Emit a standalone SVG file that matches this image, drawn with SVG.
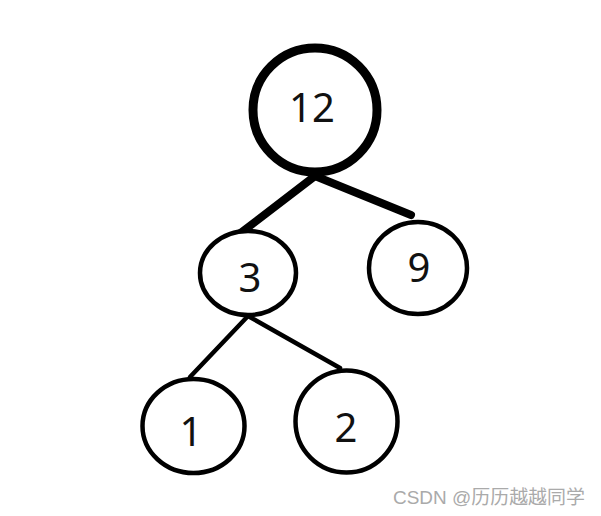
<svg xmlns="http://www.w3.org/2000/svg" width="601" height="516" viewBox="0 0 601 516">
<style>
.node{fill:#fff;stroke:#000;stroke-width:4.5}
.big{stroke-width:9}
.lbl{font-family:"Noto Sans","Open Sans",sans-serif;font-size:40px;fill:#111;text-anchor:middle;dominant-baseline:central}
.edge{stroke:#000;stroke-width:4.5;stroke-linecap:round;fill:none}
.thick{stroke-width:8}
.wm{font-family:"Liberation Sans","Noto Sans CJK SC",sans-serif;font-size:19px;fill:#aaa}
</style>
<rect width="601" height="516" fill="#fff"/>
<g id="connectors">
<line class="edge thick" x1="315" y1="176" x2="238" y2="235"/>
<line class="edge thick" x1="315" y1="176" x2="411" y2="215"/>
<line class="edge" x1="248" y1="316" x2="190" y2="377"/>
<line class="edge" x1="248" y1="316" x2="340" y2="368"/>
</g>
<g id="n12"><circle class="node big" cx="315" cy="110" r="62"/><text class="lbl" x="312" y="106">12</text></g>
<g id="n3"><ellipse class="node" cx="248" cy="273" rx="48" ry="42"/><text class="lbl" x="250" y="276">3</text></g>
<g id="n9"><ellipse class="node" cx="418" cy="268" rx="49" ry="46"/><text class="lbl" x="419" y="266">9</text></g>
<g id="n1"><ellipse class="node" cx="193.5" cy="426" rx="51" ry="47"/><text class="lbl" x="191" y="430">1</text></g>
<g id="n2"><circle class="node" cx="346.5" cy="421.5" r="51"/><text class="lbl" x="346" y="426">2</text></g>
<text class="wm" x="393" y="504" textLength="192" lengthAdjust="spacingAndGlyphs">CSDN @历历越越同学</text>
</svg>
